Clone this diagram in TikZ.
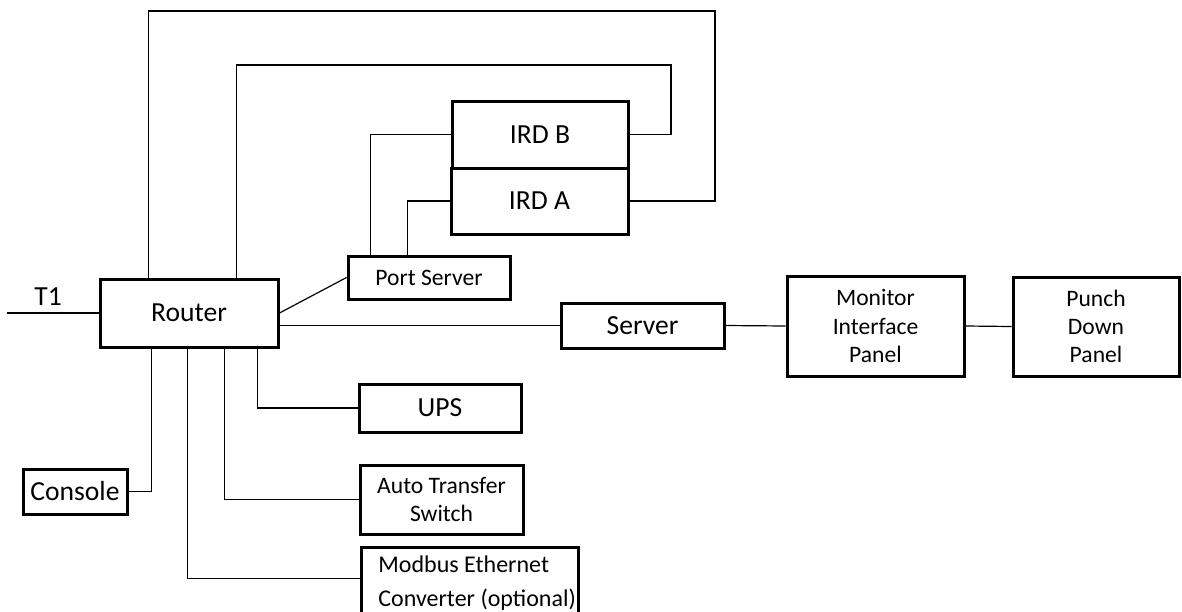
\documentclass[tikz,border=0pt]{standalone}
\usepackage{fontspec}
\setmainfont{Carlito}
\usetikzlibrary{calc, positioning}

\begin{document}
\begin{tikzpicture}[
        x=0.5pt, y=-0.5pt,
        device/.style={rectangle, draw, line width=1.5pt, inner sep=2pt},
        big/.style={font=\fontsize{13.8}{16}\selectfont},
        small/.style={font=\fontsize{11.8}{14.1}\selectfont, align=center},
        wire/.style={line width=0.6pt}
    ]

    \useasboundingbox (0,0) rectangle (1182,611);
    \clip (0,0) rectangle (1182,611);

    % boxes
    \node[device, big, minimum width=89pt, minimum height=34pt] (router) at (189,313) {Router};
    \node[device, big, minimum width=88pt, minimum height=33.5pt] (irdB) at (540,134.5) {IRD B};
    \node[device, big, minimum width=88.5pt, minimum height=33pt] (irdA) at (539.5,201) {IRD A};
    \node[device, small, minimum width=81pt, minimum height=21.5pt] (ports) at (429,277.5) {Port Server};
    \node[device, big, minimum width=81.5pt, minimum height=22.5pt] (server) at (642.5,325.5) {Server};
    \node[device, small, minimum width=88.5pt, minimum height=50pt] (monitor) at (875.5,326) {Monitor\\Interface\\Panel};
    \node[device, small, minimum width=83pt, minimum height=49.5pt] (punch) at (1096,326.5) {Punch\\Down\\Panel};
    \node[device, big, minimum width=81pt, minimum height=24pt] (ups) at (440,408) {UPS};
    \node[device, big, minimum width=52pt, minimum height=22.5pt, inner xsep=1pt] (console) at (75,491.5) {Console};
    \node[device, small, minimum width=81.5pt, minimum height=34.5pt] (ats) at (441.5,499.5) {Auto Transfer\\Switch};
    \node[device, minimum width=108.5pt, minimum height=45pt] (modbus) at (469.5,592) {};
    \node[font=\fontsize{12}{17}\selectfont, align=left, anchor=north west, inner sep=0pt] (modbuslabel) at (378,555) {Modbus Ethernet\\Converter (optional)};

    \coordinate (t1) at (7,313);
    \coordinate (outer) at (715,11);
    \coordinate (inner) at (671,65);

    % lines
    \draw[wire] (t1) -- node[above, big, pos=0.45] (t1label) {T1} (router.west);
    \draw[wire] ($(router.north west)+(50,0)$) |- (outer) |- (irdA.east);
    \draw[wire] ($(router.north west)+(138,0)$) |- (inner) |- (irdB.east);
    \draw[wire] (router.east) -- (ports.west);
    \draw[wire] ($(ports.north west)+(24,0)$) |- (irdB.west);
    \draw[wire] ($(ports.north west)+(61,0)$) |- (irdA.west);
    \draw[wire] (router.east |- server.west) -- (server.west);
    \draw[wire] (server.east) -- (monitor.west);
    \draw[wire] (monitor.east) -- (punch.west);
    \draw[wire] ($(router.south west)+(53,0)$) |- (console.east);
    \draw[wire] ($(router.south west)+(89,0)$) |- ($(modbus.north west)+(0,33)$);
    \draw[wire] ($(router.south west)+(126,0)$) |- (ats.west);
    \draw[wire] ($(router.south west)+(159,0)$) |- (ups.west);
\end{tikzpicture}
\end{document}
